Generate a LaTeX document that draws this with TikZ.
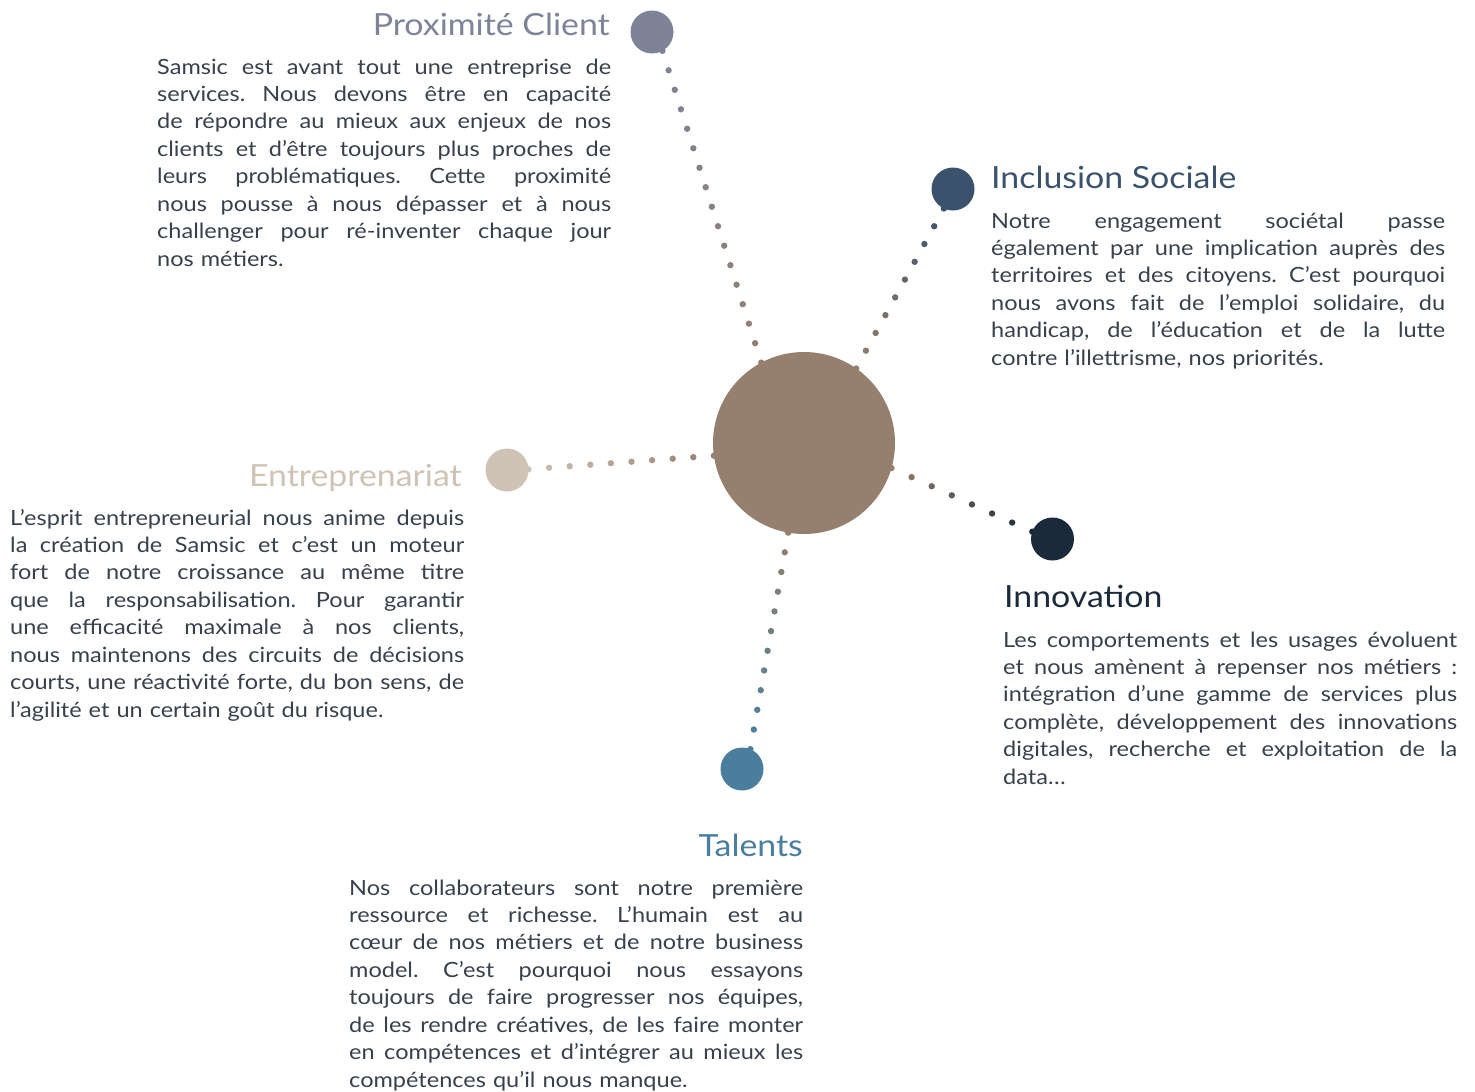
\documentclass[tikz,border=0pt]{standalone}
\usepackage{fontspec}
\setmainfont{Lato}[FakeStretch=1.12]
\newfontfamily\ttlfont{Lato}[FakeStretch=1.11]
\usetikzlibrary{calc}
\definecolor{cen}{RGB}{149,128,111}
\definecolor{prox}{RGB}{126,131,152}
\definecolor{incl}{RGB}{58,82,108}
\definecolor{entr}{RGB}{206,195,181}
\definecolor{innov}{RGB}{27,42,58}
\definecolor{tal}{RGB}{74,126,156}
\definecolor{txt}{RGB}{56,64,76}
\newcommand\jl[1]{\makebox[454pt][s]{\spaceskip=0.25em plus 1fil\relax #1}}
\newcommand\dotlink[5]{%
  \foreach \i in {0,...,#3}{%
    \pgfmathsetmacro\p{100*\i/#3}%
    \fill[color=#5!\p!#4] ($(#1)!\i/#3!(#2)$) circle[radius=3.2pt];
  }}
\begin{document}
\begin{tikzpicture}[x=1pt,y=-1pt,
  hub/.style={circle, inner sep=0, outer sep=0, minimum size=182pt, fill=cen},
  sat/.style={circle, inner sep=0, outer sep=0, minimum size=43pt},
  ttl/.style={font=\ttlfont\fontsize{30.5pt}{36pt}\selectfont, inner sep=0},
  body/.style={font=\fontsize{21pt}{27.45pt}\selectfont\frenchspacing, text=txt, text width=454pt, align=left, inner sep=0}]
\useasboundingbox (0,0) rectangle (1475,1092);

\node[hub] (c) at (804,443) {};
\node[sat, fill=prox] (p) at (652,32) {};
\node[sat, fill=incl] (s) at (953,189) {};
\node[sat, fill=entr] (e) at (507,470) {};
\node[sat, fill=innov] (n) at (1052.5,539) {};
\node[sat, fill=tal] (t) at (742,769) {};

\dotlink{c.118}{p.299}{16}{cen}{prox}
\dotlink{c.55}{s.245}{9}{cen}{incl}
\dotlink{c.188}{e.2}{9}{cen}{entr}
\dotlink{c.344}{n.160}{7}{cen}{innov}
\dotlink{c.260}{t.67}{11}{cen}{tal}

% Proximite Client
\node[ttl, text=prox, anchor=base east] (pt) at (610,35) {Proximité Client};
\node[body, anchor=base west] (pb) at (157,74) {%
\jl{Samsic est avant tout une entreprise de}\\
\jl{services. Nous devons être en capacité}\\
\jl{de répondre au mieux aux enjeux de nos}\\
\jl{clients et d’être toujours plus proches de}\\
\jl{leurs problématiques. Cette proximité}\\
\jl{nous pousse à nous dépasser et à nous}\\
\jl{challenger pour ré-inventer chaque jour}\\
nos métiers.};

% Inclusion Sociale
\node[ttl, text=incl, anchor=base west] (st) at (991,188) {Inclusion Sociale};
\node[body, anchor=base west] (sb) at (991,228) {%
\jl{Notre engagement sociétal passe}\\
\jl{également par une implication auprès des}\\
\jl{territoires et des citoyens. C’est pourquoi}\\
\jl{nous avons fait de l’emploi solidaire, du}\\
\jl{handicap, de l’éducation et de la lutte}\\
contre l’illettrisme, nos priorités.};

% Entreprenariat
\node[ttl, text=entr, anchor=base east] (et) at (462,486) {Entreprenariat};
\node[body, anchor=base west] (eb) at (10,525) {%
\jl{L’esprit entrepreneurial nous anime depuis}\\
\jl{la création de Samsic et c’est un moteur}\\
\jl{fort de notre croissance au même titre}\\
\jl{que la responsabilisation. Pour garantir}\\
\jl{une efficacité maximale à nos clients,}\\
\jl{nous maintenons des circuits de décisions}\\
\jl{courts, une réactivité forte, du bon sens, de}\\
l’agilité et un certain goût du risque.};

% Innovation
\node[ttl, text=innov, anchor=base west] (nt) at (1004,607) {Innovation};
\node[body, anchor=base west] (nb) at (1003,647) {%
\jl{Les comportements et les usages évoluent}\\
\jl{et nous amènent à repenser nos métiers :}\\
\jl{intégration d’une gamme de services plus}\\
\jl{complète, développement des innovations}\\
\jl{digitales, recherche et exploitation de la}\\
data…};

% Talents
\node[ttl, text=tal, anchor=base east] (tt) at (803,856) {Talents};
\node[body, anchor=base west] (tb) at (349,895) {%
\jl{Nos collaborateurs sont notre première}\\
\jl{ressource et richesse. L’humain est au}\\
\jl{cœur de nos métiers et de notre business}\\
\jl{model. C’est pourquoi nous essayons}\\
\jl{toujours de faire progresser nos équipes,}\\
\jl{de les rendre créatives, de les faire monter}\\
\jl{en compétences et d’intégrer au mieux les}\\
compétences qu’il nous manque.};
\end{tikzpicture}
\end{document}
